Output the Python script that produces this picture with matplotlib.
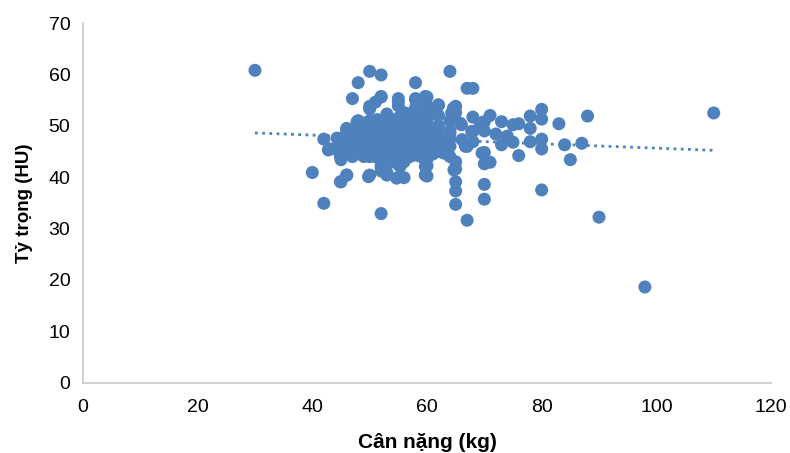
import matplotlib
matplotlib.use("Agg")
import matplotlib.pyplot as plt
import numpy as np

plt.rcParams['font.family'] = ['Liberation Sans', 'DejaVu Sans']

# Weight (kg) and density (HU)
weight = [
    30, 110, 98, 90, 80, 85, 87, 88, 84, 83, 80, 80, 80, 80, 78, 78, 78, 76, 76, 75,
    75, 74, 73, 73, 72, 71, 71, 70, 70, 70, 70, 70, 70, 68, 68, 68, 68, 67, 67, 67,
    65, 65, 65, 65, 65, 65, 65, 66, 64, 64, 64, 63, 62, 62, 60, 60, 60, 58, 58, 58,
    58, 56, 56, 55, 55, 53, 53, 52, 52, 52, 52, 50, 50, 50, 51, 48, 47, 47, 48, 46,
    46, 45, 45, 45, 43, 42, 42, 40,
    52, 55, 47.8, 50, 46, 44.3, 42.8, 44.9, 44.9, 46, 49.8, 53, 54.7, 51, 54, 50.4,
    48.6, 52, 54.4, 55.3, 49.8, 51.3, 55.3, 52,
    58, 59.7, 62, 64.6, 64.3, 69.3, 65.8, 67.8, 66.7, 69.6, 64.7, 59.7, 59.7, 62.9,
    62.3, 63.2, 66.1, 58.5, 57.6, 56.2, 61,
    50, 50, 50, 50, 50, 50, 50, 50, 51, 51, 51, 51, 52, 52, 52, 52, 52, 52,
    53, 53, 53, 53, 53, 54, 54, 54, 54, 54, 54, 55, 55, 55, 55, 55, 55, 55,
    56, 56, 56, 56, 56, 56, 57, 57, 57, 57, 57, 58, 58, 58, 58, 58, 58, 58,
    59, 59, 59, 59, 59, 59, 60, 60, 60, 60, 60, 60, 60, 60, 61, 61, 61, 61,
    62, 62, 62, 62, 63, 63, 64, 64, 64, 64, 48, 48, 48, 48, 49, 49, 49, 49, 49,
    47, 47, 47, 46, 46, 46, 45, 45, 44,
]
density = [
    60.8, 52.5, 18.6, 32.2, 37.5, 43.4, 46.6, 51.9, 46.3, 50.4, 53.2, 51.3, 47.4, 45.5, 51.9, 49.5, 46.9, 44.2, 50.4, 50.2,
    46.8, 48.0, 50.8, 46.3, 48.4, 52.0, 42.9, 42.6, 38.6, 35.7, 44.8, 49.0, 50.8, 51.7, 48.9, 46.9, 57.3, 57.3, 31.6, 46.0,
    34.7, 37.3, 39.1, 41.6, 43.0, 53.8, 52.6, 50.2, 60.6, 49.0, 47.4, 44.8, 54.0, 52.0, 55.6, 40.2, 42.2, 58.4, 55.3, 52.6,
    44.3, 39.9, 52.0, 55.3, 53.9, 40.9, 52.3, 59.9, 32.9, 55.6, 41.2, 60.6, 40.4, 53.3, 54.6, 58.4, 55.3, 44.0, 51.0, 49.5,
    40.4, 39.1, 43.4, 44.8, 45.5, 47.4, 34.9, 40.9,
    55.7, 54.7, 50.8, 53.8, 49.2, 47.6, 45.3, 44.0, 39.1, 40.4, 40.1, 40.4, 39.8, 44.0, 43.4, 47.3,
    47.3, 48.6, 47.3, 49.9, 49.9, 51.2, 42.1, 42.1,
    55.1, 55.7, 54.1, 53.4, 52.5, 50.5, 50.5, 48.9, 46.0, 44.7, 41.4, 40.4, 42.1, 44.7,
    46.6, 47.9, 47.3, 44.3, 50.5, 52.5, 52.8,
    44, 45, 46, 47, 48, 49, 50, 51, 45.5, 47, 48.5, 50, 43, 44.5, 46, 47.5, 49, 50.5,
    44, 45.5, 47, 48, 50, 43, 45, 46.5, 48, 49.5, 51, 42.5, 44, 45.5, 47, 48.5, 50, 51.5,
    43, 44.5, 46, 47.5, 49, 51, 44, 46, 47, 48.5, 50, 45, 46.5, 48, 49.5, 51, 52, 53.5,
    44, 46, 47.5, 49, 50.5, 52, 43.5, 45, 46.5, 48, 49.5, 51, 52.5, 54, 44.5, 46, 47.5, 49,
    45, 46.5, 48, 50, 45.5, 47, 44, 46, 48.5, 51, 45, 46.5, 48, 49.5, 44, 46, 47.5, 49, 50.5,
    46, 47.5, 49, 45, 47, 48.5, 46, 47.5, 45.5,
]

x_ticks = [0, 20, 40, 60, 80, 100, 120]
y_ticks = [0, 10, 20, 30, 40, 50, 60, 70]

blue = '#4F81BD'

fig = plt.figure(figsize=(7.9, 4.53), dpi=100)
ax = fig.add_axes([0.105, 0.1556, 0.871, 0.7934])

ax.scatter(weight, density, s=88, color=blue, edgecolors='none', zorder=3)

# linear trend line
w = np.array(weight, dtype=float)
d = np.array(density, dtype=float)
k, b = np.polyfit(w, d, 1)
xs = np.array([w.min(), w.max()])
ax.plot(xs, k * xs + b, color=blue, lw=2.0, linestyle=(0, (1, 1.6)), zorder=2)

ax.set_xlim(0, 120)
ax.set_ylim(0, 70)
ax.set_xticks(x_ticks)
ax.set_yticks(y_ticks)
ax.tick_params(axis='both', length=0, labelsize=14, colors='black')
ax.tick_params(axis='x', pad=12)
ax.tick_params(axis='y', pad=9)

for s in ['top', 'right']:
    ax.spines[s].set_visible(False)
for s in ['left', 'bottom']:
    ax.spines[s].set_color('#C8C8C8')
    ax.spines[s].set_linewidth(1.2)

ax.set_xlabel('Cân nặng (kg)', fontsize=15, fontweight='bold', labelpad=12)
ax.set_ylabel('Tỷ trọng (HU)', fontsize=13.5, fontweight='bold', labelpad=11)

fig.savefig('out.png', dpi=100)
